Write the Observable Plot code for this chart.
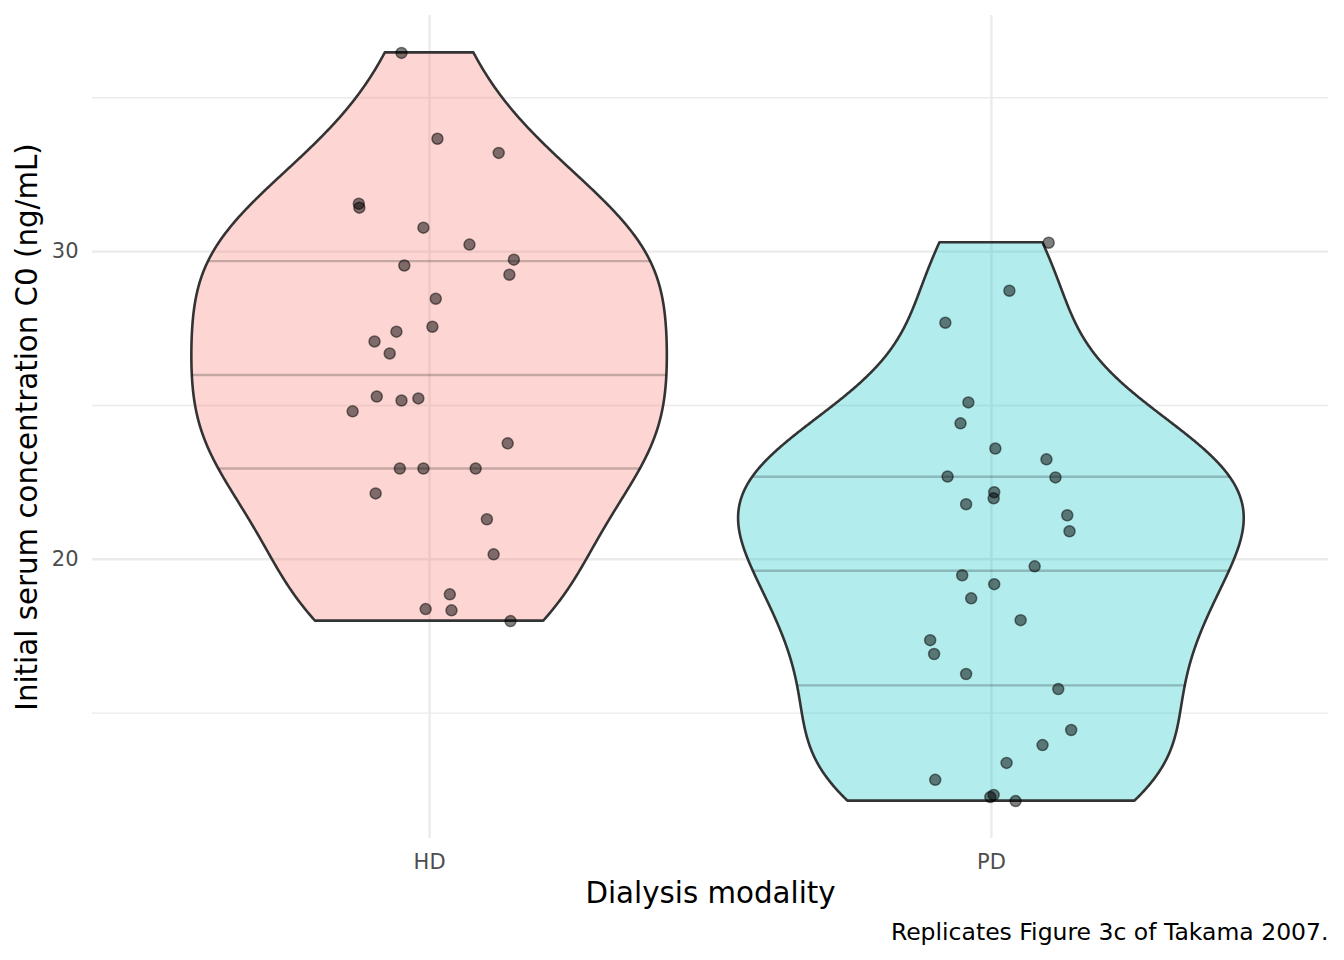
<!DOCTYPE html>
<html>
<head>
<meta charset="utf-8">
<script src="https://cdn.jsdelivr.net/npm/d3@7"></script>
<script src="https://cdn.jsdelivr.net/npm/@observablehq/plot@0.6"></script>
<style>
  body { margin: 0; background: #fff; }
  #chart svg { display: block; }
</style>
</head>
<body>
<div id="chart"></div>
<script>
// Dialysis modality groups and their colours
const groups = ["HD", "PD"];
const groupFills = ["#F8766D", "#00BFC4"];

// Initial serum concentration C0 (ng/mL) per patient, with horizontal jitter (in category units)
const hdC0 = [36.46, 33.67, 33.21, 31.56, 31.43, 30.78, 30.23, 29.74, 29.55, 29.25,
              28.47, 27.56, 27.40, 27.08, 26.69, 25.29, 25.23, 25.16, 24.81, 23.77,
              22.95, 22.95, 22.95, 22.14, 21.30, 20.16, 18.86, 18.38, 18.34, 17.99];
const hdJitter = [-0.050, 0.014, 0.123, -0.126, -0.125, -0.011, 0.071, 0.150, -0.045, 0.142,
                  0.011, 0.005, -0.059, -0.098, -0.071, -0.094, -0.020, -0.050, -0.137, 0.139,
                  -0.053, -0.011, 0.082, -0.096, 0.102, 0.114, 0.036, -0.007, 0.039, 0.144];
const pdC0 = [30.29, 28.73, 27.69, 25.10, 24.42, 23.60, 23.25, 22.69, 22.66, 22.18,
              21.98, 21.79, 21.43, 20.91, 19.77, 19.48, 19.19, 18.73, 18.02, 17.37,
              16.92, 16.27, 15.78, 14.45, 13.96, 13.38, 12.83, 12.34, 12.27, 12.14];
const pdJitter = [0.102, 0.032, -0.082, -0.041, -0.055, 0.007, 0.098, -0.078, 0.114, 0.005,
                  0.004, -0.045, 0.135, 0.139, 0.077, -0.052, 0.005, -0.036, 0.052, -0.109,
                  -0.102, -0.045, 0.119, 0.142, 0.091, 0.027, -0.100, 0.004, -0.002, 0.043];

const yMajorTicks = [20, 30];
const yMinorTicks = [15, 25, 35];
const quantileLevels = [0.25, 0.5, 0.75];

const valuesByGroup = [hdC0, pdC0];
const jitterByGroup = [hdJitter, pdJitter];

// Silverman's rule-of-thumb bandwidth (R's bw.nrd0)
function bwNrd0(v) {
  const s = d3.deviation(v);
  const iqr = d3.quantile(v, 0.75) - d3.quantile(v, 0.25);
  const lo = Math.min(s, iqr / 1.34);
  return 0.9 * lo * Math.pow(v.length, -0.2);
}

// Gaussian kernel density evaluated over the range of the data (trimmed violin)
function kde(v, n = 512) {
  const h = bwNrd0(v);
  const [lo, hi] = d3.extent(v);
  const out = [];
  for (let i = 0; i < n; i++) {
    const y = lo + (hi - lo) * i / (n - 1);
    let s = 0;
    for (const x of v) { const u = (y - x) / h; s += Math.exp(-0.5 * u * u); }
    out.push({ y, density: s / (v.length * h * Math.sqrt(2 * Math.PI)) });
  }
  return out;
}

const densities = valuesByGroup.map(v => kde(v));
const maxDensity = d3.max(densities.flat(), d => d.density);

// Violin outlines: half-width 0.45 category units at the overall density peak
const violinRows = densities.flatMap((dens, gi) =>
  dens.map(d => ({ group: groups[gi], cx: gi + 1, y: d.y, w: 0.45 * d.density / maxDensity }))
);

// Quantile segments at the sample quartiles, spanning the violin's width there
const quantileRows = valuesByGroup.flatMap((v, gi) => {
  const dens = densities[gi];
  return quantileLevels.map(q => {
    const y = d3.quantile(v, q);
    let i = dens.findIndex(d => d.y >= y);
    if (i <= 0) i = 1;
    const t = (y - dens[i - 1].y) / (dens[i].y - dens[i - 1].y);
    const dy = dens[i - 1].density + t * (dens[i].density - dens[i - 1].density);
    return { cx: gi + 1, y, w: 0.45 * dy / maxDensity };
  });
});

const pointRows = valuesByGroup.flatMap((v, gi) =>
  v.map((c0, j) => ({ x: gi + 1 + jitterByGroup[gi][j], y: c0 }))
);

// Continuous y range with 5% padding on each side
const [yLo, yHi] = d3.extent(valuesByGroup.flat());
const pad = (yHi - yLo) * 0.05;

const chart = Plot.plot({
  width: 1344,
  height: 960,
  marginTop: 15,
  marginRight: 16,
  marginBottom: 122,
  marginLeft: 92,
  style: { fontFamily: "DejaVu Sans", background: "#fff" },
  x: { domain: [0.4, 2.6] },
  y: { domain: [yLo - pad, yHi + pad] },
  color: { domain: groups, range: groupFills },
  marks: [
    Plot.ruleY(yMinorTicks, { stroke: "#EBEBEB", strokeWidth: 1.4 }),
    Plot.ruleY(yMajorTicks, { stroke: "#EBEBEB", strokeWidth: 2.4 }),
    Plot.ruleX([1, 2], { stroke: "#EBEBEB", strokeWidth: 2.4 }),
    Plot.areaX(violinRows, {
      y: "y",
      x1: d => d.cx - d.w,
      x2: d => d.cx + d.w,
      z: "group",
      fill: "group",
      fillOpacity: 0.3,
      stroke: "#333333",
      strokeWidth: 2.6,
      curve: "linear"
    }),
    Plot.link(quantileRows, {
      x1: d => d.cx - d.w,
      x2: d => d.cx + d.w,
      y1: "y",
      y2: "y",
      stroke: "#000",
      strokeOpacity: 0.22,
      strokeWidth: 2.4
    }),
    Plot.dot(pointRows, {
      x: "x",
      y: "y",
      r: 5.5,
      fill: "#000",
      fillOpacity: 0.5,
      stroke: "#000",
      strokeOpacity: 0.5,
      strokeWidth: 1.5
    }),
    Plot.axisY(yMajorTicks, {
      tickSize: 0,
      tickPadding: 14,
      fontSize: 21,
      fill: "#4D4D4D",
      label: null
    }),
    Plot.axisX([1, 2], {
      tickSize: 0,
      tickPadding: 16,
      tickFormat: d => groups[d - 1],
      fontSize: 21,
      fill: "#4D4D4D",
      label: null
    }),
    Plot.text(["Dialysis modality"], {
      text: d => d,
      frameAnchor: "bottom",
      dy: 64,
      fontSize: 29.3,
      fill: "#000"
    }),
    Plot.text(["Initial serum concentration C0 (ng/mL)"], {
      text: d => d,
      frameAnchor: "left",
      textAnchor: "middle",
      rotate: -90,
      dx: -65,
      fontSize: 29.3,
      fill: "#000"
    }),
    Plot.text(["Replicates Figure 3c of Takama 2007."], {
      text: d => d,
      frameAnchor: "bottom-right",
      textAnchor: "end",
      dy: 101,
      fontSize: 23.5,
      fill: "#000"
    })
  ]
});

document.getElementById("chart").appendChild(chart);
</script>
</body>
</html>
